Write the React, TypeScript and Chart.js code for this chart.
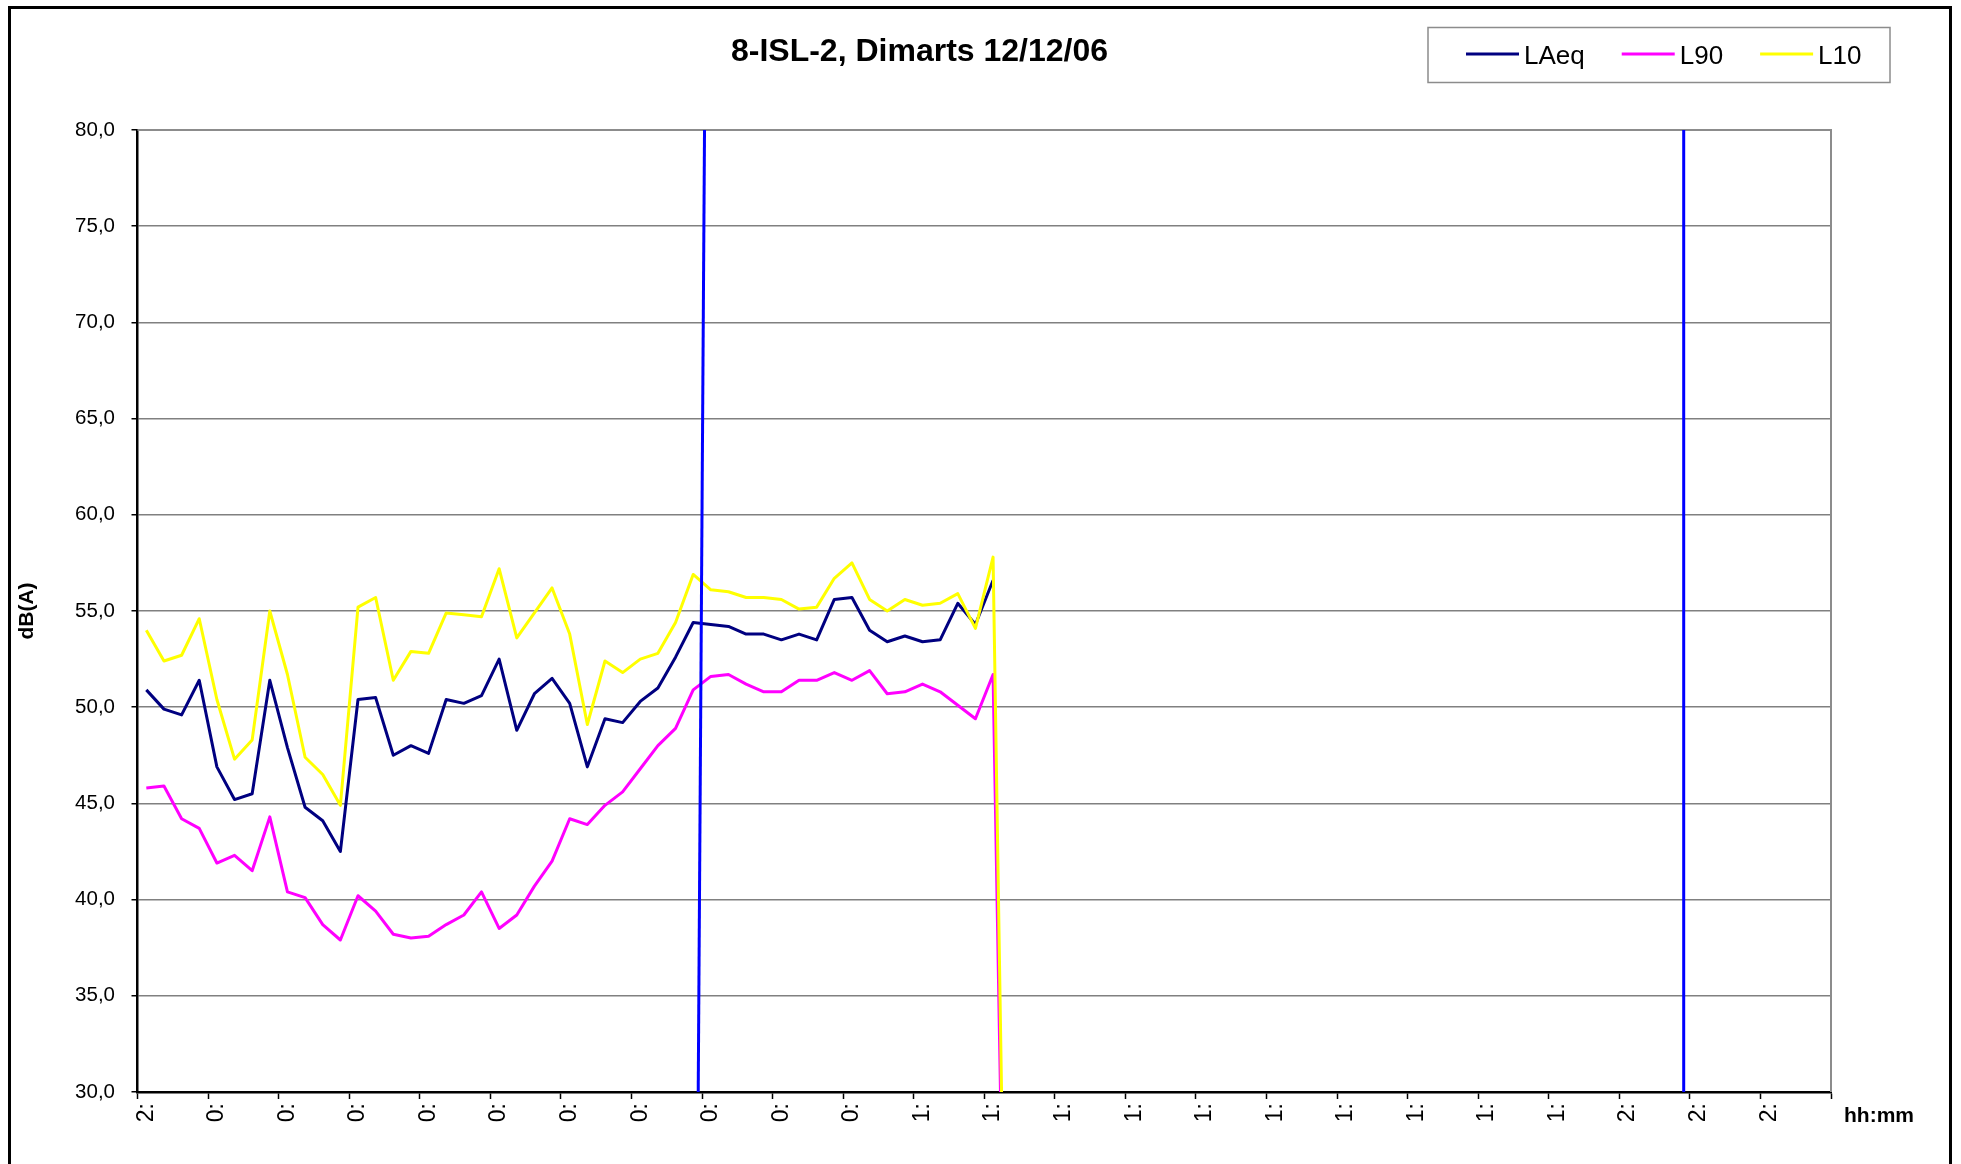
import React, { useEffect, useRef } from 'react';
import { Chart, registerables } from 'chart.js';

Chart.register(...registerables);

// Hourly labels for the 24 h measurement window (one label every 4 quarter-hour slots)
const hourLabels = [
  '23:00', '00:00', '01:00', '02:00', '03:00', '04:00', '05:00', '06:00',
  '07:00', '08:00', '09:00', '10:00', '11:00', '12:00', '13:00', '14:00',
  '15:00', '16:00', '17:00', '18:00', '19:00', '20:00', '21:00', '22:00',
];
const slotsPerHour = 4;

// Quarter-hour levels, dB(A)
const laeq = [
  50.9, 49.9, 49.6, 51.4, 46.9, 45.2, 45.5, 51.4, 47.9, 44.8, 44.1, 42.5,
  50.4, 50.5, 47.5, 48.0, 47.6, 50.4, 50.2, 50.6, 52.5, 48.8, 50.7, 51.5,
  50.2, 46.9, 49.4, 49.2, 50.3, 51.0, 52.6, 54.4, 54.3, 54.2, 53.8, 53.8,
  53.5, 53.8, 53.5, 55.6, 55.7, 54.0, 53.4, 53.7, 53.4, 53.5, 55.4, 54.3,
  56.6,
];
const l90 = [
  45.8, 45.9, 44.2, 43.7, 41.9, 42.3, 41.5, 44.3, 40.4, 40.1, 38.7, 37.9,
  40.2, 39.4, 38.2, 38.0, 38.1, 38.7, 39.2, 40.4, 38.5, 39.2, 40.7, 42.0,
  44.2, 43.9, 44.9, 45.6, 46.8, 48.0, 48.9, 50.9, 51.6, 51.7, 51.2, 50.8,
  50.8, 51.4, 51.4, 51.8, 51.4, 51.9, 50.7, 50.8, 51.2, 50.8, 50.1, 49.4,
  51.7, 0,
];
const l10 = [
  54.0, 52.4, 52.7, 54.6, 50.4, 47.3, 48.3, 55.0, 51.7, 47.4, 46.5, 44.9,
  55.2, 55.7, 51.4, 52.9, 52.8, 54.9, 54.8, 54.7, 57.2, 53.6, 54.9, 56.2,
  53.8, 49.1, 52.4, 51.8, 52.5, 52.8, 54.4, 56.9, 56.1, 56.0, 55.7, 55.7,
  55.6, 55.1, 55.2, 56.7, 57.5, 55.6, 55.0, 55.6, 55.3, 55.4, 55.9, 54.1,
  57.8, 0,
];

// Day / night period boundaries, in slot units (from slot -> to slot)
const periodStart = [31, 32];
const periodEnd = [87.15, 87.15];
const periodLevels = [-10, 130];

const yTicks = { min: 30, max: 80, step: 5 };

const FONT = "'Liberation Sans', Arial, Helvetica, sans-serif";

const categories = Array.from({ length: hourLabels.length * slotsPerHour }, (_, i) =>
  i % slotsPerHour === 0 ? hourLabels[i / slotsPerHour] : ''
);

const markerPoints = (xs: number[]) =>
  xs.map((x, i) => ({ x, y: periodLevels[i] }));

// Plot frame (top/right), boxed legend and the "hh:mm" caption
const chartDecor = {
  id: 'chartDecor',
  beforeDatasetsDraw(chart: any) {
    const { ctx, chartArea: a } = chart;
    ctx.save();
    ctx.strokeStyle = '#8c8c8c';
    ctx.lineWidth = 2;
    ctx.beginPath();
    ctx.moveTo(a.left, a.top);
    ctx.lineTo(a.right, a.top);
    ctx.lineTo(a.right, a.bottom);
    ctx.stroke();
    ctx.restore();
  },
  afterDraw(chart: any, _args: any, opts: any) {
    const { ctx, chartArea: a } = chart;
    ctx.save();
    // legend
    const b = opts.box;
    ctx.strokeStyle = '#8c8c8c';
    ctx.lineWidth = 1.5;
    ctx.strokeRect(b.x, b.y, b.w, b.h);
    ctx.font = `${opts.fontSize}px ${FONT}`;
    ctx.textBaseline = 'alphabetic';
    ctx.textAlign = 'left';
    let x = b.x + opts.inset;
    chart.data.datasets.forEach((ds: any) => {
      if (!ds.label) return;
      ctx.strokeStyle = ds.borderColor;
      ctx.lineWidth = 3;
      ctx.beginPath();
      ctx.moveTo(x, b.y + opts.lineY);
      ctx.lineTo(x + opts.sample, b.y + opts.lineY);
      ctx.stroke();
      ctx.fillStyle = '#000';
      const tx = x + opts.sample + opts.textGap;
      ctx.fillText(ds.label, tx, b.y + opts.textY);
      x = tx + ctx.measureText(ds.label).width + opts.itemGap;
    });
    // x axis caption
    ctx.font = `bold 21px ${FONT}`;
    ctx.fillStyle = '#000';
    ctx.textBaseline = 'middle';
    ctx.fillText(opts.caption, a.right + 13, a.bottom + 24);
    ctx.restore();
  },
};

export default function App() {
  const ref = useRef<HTMLCanvasElement>(null);

  useEffect(() => {
    if (!ref.current) return;
    const series = { borderWidth: 3, pointRadius: 0, tension: 0, clip: 0, borderJoinStyle: 'round' as const, fill: false };
    const chart = new Chart(ref.current, {
      type: 'line',
      data: {
        labels: categories,
        datasets: [
          { ...series, label: 'LAeq', data: laeq, borderColor: '#000080', order: 5 },
          { ...series, label: 'L90', data: l90, borderColor: '#ff00ff', order: 4 },
          { ...series, label: 'L10', data: l10, borderColor: '#ffff00', order: 3 },
          { ...series, data: markerPoints(periodStart), borderColor: '#0000ff', xAxisID: 'xm', order: 1 },
          { ...series, data: markerPoints(periodEnd), borderColor: '#0000ff', xAxisID: 'xm', order: 2 },
        ] as any,
      },
      options: {
        animation: false,
        responsive: false,
        events: [],
        layout: { padding: { left: 8, right: 130, top: 0, bottom: 0 } },
        plugins: {
          legend: { display: false },
          tooltip: { enabled: false },
          title: {
            display: true,
            text: '8-ISL-2, Dimarts 12/12/06',
            color: '#000',
            font: { family: FONT, size: 32, weight: 'bold' },
            padding: { top: 32.5, bottom: 59.1 },
          },
          chartDecor: {
            box: { x: 1428, y: 27.5, w: 462, h: 55 },
            inset: 38,
            sample: 53,
            textGap: 5,
            itemGap: 37,
            lineY: 26.5,
            textY: 36,
            fontSize: 26,
            caption: 'hh:mm',
          },
        } as any,
        scales: {
          x: {
            type: 'category',
            offset: true,
            grid: {
              offset: true,
              drawOnChartArea: false,
              tickLength: 7,
              tickWidth: 1.5,
              tickColor: (ctx: any) =>
                ctx.index === undefined || ctx.index % slotsPerHour === 0 ? '#000' : 'rgba(0,0,0,0)',
            },
            border: { color: '#000', width: 2.5 },
            ticks: {
              autoSkip: false,
              minRotation: 90,
              maxRotation: 90,
              padding: 4,
              color: '#000',
              font: { family: FONT, size: 23 },
              callback: (_v: any, i: number) => {
                const t = categories[i];
                return t ? t.charAt(0) + ':' : '';
              },
            },
            afterFit: (s: any) => { s.height = 72; },
          },
          xm: {
            type: 'linear',
            display: false,
            min: -0.5,
            max: categories.length - 0.5,
          },
          y: {
            min: yTicks.min,
            max: yTicks.max,
            ticks: {
              stepSize: yTicks.step,
              padding: 16.5,
              color: '#000',
              font: { family: FONT, size: 20.5 },
              callback: (v: any) => Number(v).toFixed(1).replace('.', ','),
            },
            grid: { color: '#808080', lineWidth: 1.5, tickLength: 6, tickColor: '#000', tickWidth: 1.5 },
            border: { color: '#000', width: 2.5 },
            title: {
              display: true,
              text: 'dB(A)',
              color: '#000',
              font: { family: FONT, size: 21, weight: 'bold' },
              padding: { top: 7, bottom: 0 },
            },
            afterFit: (s: any) => { s.width = 129.5; },
          },
        } as any,
      },
      plugins: [chartDecor],
    });
    return () => chart.destroy();
  }, []);

  return (
    <div>
      <div
        style={{
          position: 'absolute',
          left: 8,
          top: 6,
          width: 1944,
          height: 1158,
          border: '3px solid #000',
          borderBottom: 'none',
          boxSizing: 'border-box',
        }}
      />
      <canvas ref={ref} width={1961} height={1164} style={{ position: 'absolute', left: 0, top: 0 }} />
    </div>
  );
}
